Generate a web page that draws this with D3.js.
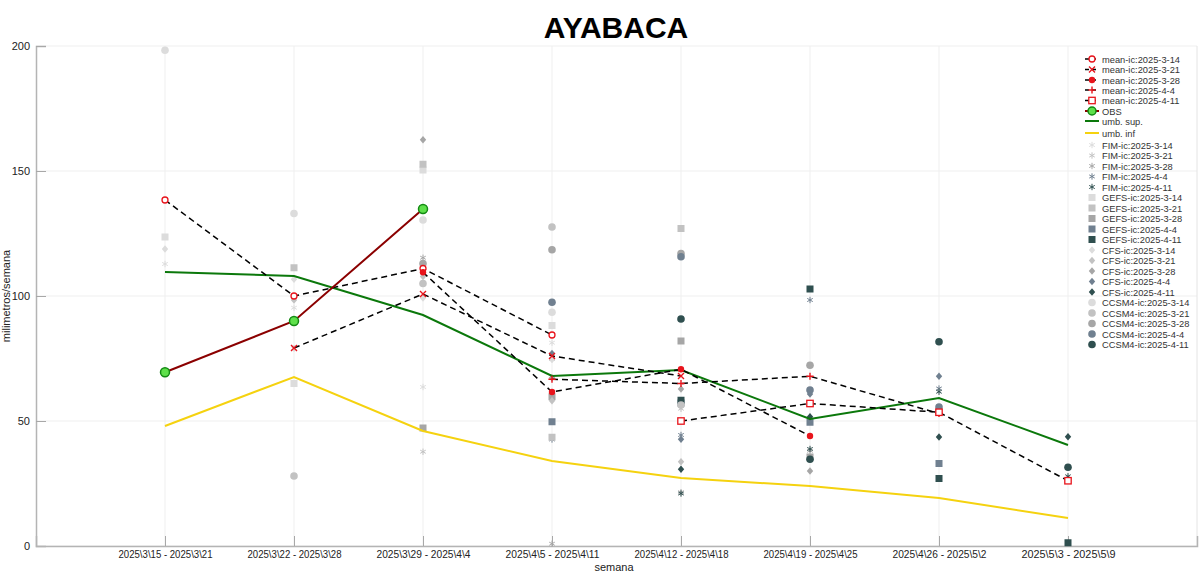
<!DOCTYPE html>
<html>
<head>
<meta charset="utf-8">
<script src="https://cdn.jsdelivr.net/npm/d3@7"></script>
<style>
body { margin: 0; background: #fff; }
text { font-family: "Liberation Sans", Arial, sans-serif; }
</style>
</head>
<body>
<div id="chart"></div>
<script>
var width = 1200, height = 575;

// week labels (x categories)
var weeks = ["2025\\3\\15 - 2025\\3\\21", "2025\\3\\22 - 2025\\3\\28", "2025\\3\\29 - 2025\\4\\4",
  "2025\\4\\5 - 2025\\4\\11", "2025\\4\\12 - 2025\\4\\18", "2025\\4\\19 - 2025\\4\\25",
  "2025\\4\\26 - 2025\\5\\2", "2025\\5\\3 - 2025\\5\\9"];
var icDates = ["2025-3-14", "2025-3-21", "2025-3-28", "2025-4-4", "2025-4-11"];
var yTicks = [0, 50, 100, 150, 200];

var obs = [69.5, 90, 134.8];
var umbSup = [109.6, 108, 92.4, 68, 70.4, 50.8, 59.2, 40.4];
var umbInf = [48, 67.6, 46, 34, 27.2, 24, 19.2, 11.2];

// each ic covers 4 weeks starting at its own index
var meanIc = [
  [138.4, 100, 111, 84.4],
  [79.2, 100.8, 76, 68],
  [109.5, 61.6, 70.7, 44],
  [66.7, 65, 67.9, 53],
  [50, 57, 53.5, 26.1]
];
var fim = [
  [112.8, 95.3, 63.6, 81.3],
  [79.1, 37.7, 74.8, 54.9],
  [115.3, 0.9, 21.5, 38.1],
  [42.6, 44.4, 98.4, 63],
  [21, 38.8, 61.7, 27.9]
];
var gefs = [
  [123.6, 65, 150.4, 88.2],
  [111.3, 152.7, 43.5, 127],
  [47.2, 59.7, 82, 35.6],
  [49.7, 57.2, 49.5, 33],
  [58.3, 102.8, 27, 1.3]
];
var cfs = [
  [118.8, 106.7, 99.2, 74.6],
  [98.4, 107.8, 58.1, 33.7],
  [162.5, 67.3, 62.8, 30],
  [77, 42.7, 60.8, 67.9],
  [30.7, 51.7, 43.6, 43.7]
];
var ccsm4 = [
  [198.3, 133, 130.4, 93.5],
  [28, 105, 127.6, 56.4],
  [113, 118.5, 117, 72.3],
  [97.5, 115.7, 62.4, 55.6],
  [90.8, 34.7, 81.7, 31.5]
];

var icColors = ["#dcdcdc", "#c2c2c2", "#a6a6a6", "#708090", "#2f4f4f"];
var meanMarks = ["circle", "x", "dot", "plus", "square"];

var x = d3.scaleLinear().domain([-1, 8]).range([36, 1197]);
var y = d3.scaleLinear().domain([0, 200]).range([546, 46]);

var svg = d3.select("#chart").append("svg")
  .attr("width", width).attr("height", height);

// grid
svg.append("g").selectAll("line").data(yTicks).enter().append("line")
  .attr("x1", x(-1)).attr("x2", x(8))
  .attr("y1", d => y(d)).attr("y2", d => y(d))
  .attr("stroke", "#efefef");
svg.append("g").selectAll("line").data(d3.range(weeks.length)).enter().append("line")
  .attr("x1", d => x(d)).attr("x2", d => x(d))
  .attr("y1", y(0)).attr("y2", y(200))
  .attr("stroke", "#efefef");
svg.append("line").attr("x1", x(8)).attr("x2", x(8)).attr("y1", y(0)).attr("y2", y(200))
  .attr("stroke", "#e4e4e4");

// axes
var yAxis = svg.append("g").attr("transform", "translate(" + x(-1) + ",0)")
  .call(d3.axisLeft(y).tickValues(yTicks).tickSize(-10).tickPadding(6));
var xAxis = svg.append("g").attr("transform", "translate(0," + y(0) + ")")
  .call(d3.axisBottom(x).tickValues(d3.range(weeks.length)).tickFormat(i => weeks[i]).tickSize(-10).tickPadding(5));
[yAxis, xAxis].forEach(function(a) {
  a.select(".domain").attr("stroke", "#b4b4b4").attr("stroke-width", 1.5);
  a.selectAll(".tick line").attr("stroke", "#a8a8a8");
  a.selectAll(".tick text").attr("fill", "#222");
});
yAxis.selectAll(".tick text").attr("font-size", 11);
xAxis.selectAll(".tick text").attr("font-size", 10).attr("textLength", 94).attr("lengthAdjust", "spacingAndGlyphs");

function starPath(r) {
  var p = "";
  for (var k = 0; k < 3; k++) {
    var a = Math.PI / 2 + k * Math.PI / 3;
    p += "M" + (r * Math.cos(a)) + "," + (r * Math.sin(a)) + "L" + (-r * Math.cos(a)) + "," + (-r * Math.sin(a));
  }
  return p;
}
function crossPath(r, diag) {
  if (diag) return "M" + -r + "," + -r + "L" + r + "," + r + "M" + -r + "," + r + "L" + r + "," + -r;
  return "M" + -r + ",0L" + r + ",0M0," + -r + "L0," + r;
}

function drawModel(g, arr, kind, ic, cx, cy) {
  arr.forEach(function(v, j) {
    var px = cx !== undefined ? cx : x(ic + j);
    var py = cy !== undefined ? cy : y(v);
    var c = icColors[ic];
    if (kind == "FIM") {
      g.append("path").attr("d", starPath(3.2)).attr("transform", "translate(" + px + "," + py + ")")
        .attr("stroke", c).attr("stroke-width", 1).attr("fill", "none");
    } else if (kind == "GEFS") {
      g.append("rect").attr("x", px - 3.5).attr("y", py - 3.5).attr("width", 7).attr("height", 7).attr("fill", c);
    } else if (kind == "CFS") {
      g.append("path").attr("d", "M0,-3.8L3.2,0L0,3.8L-3.2,0Z").attr("transform", "translate(" + px + "," + py + ")").attr("fill", c);
    } else {
      g.append("circle").attr("cx", px).attr("cy", py).attr("r", 3.8).attr("fill", c);
    }
  });
}

var models = [["FIM", fim], ["GEFS", gefs], ["CFS", cfs], ["CCSM4", ccsm4]];
var scatter = svg.append("g");
models.forEach(function(m) {
  m[1].forEach(function(arr, ic) { drawModel(scatter, arr, m[0], ic); });
});

var line = d3.line().x(d => x(d[0])).y(d => y(d[1]));

svg.append("path").datum(umbInf.map((v, i) => [i, v]))
  .attr("d", line).attr("fill", "none").attr("stroke", "#f5d20f").attr("stroke-width", 2);
svg.append("path").datum(umbSup.map((v, i) => [i, v]))
  .attr("d", line).attr("fill", "none").attr("stroke", "#0b780b").attr("stroke-width", 2);

function meanMarker(g, kind, px, py) {
  var red = "#e8141c";
  if (kind == "circle") g.append("circle").attr("cx", px).attr("cy", py).attr("r", 3).attr("fill", "#fff").attr("stroke", red).attr("stroke-width", 1.3);
  else if (kind == "x") g.append("path").attr("d", crossPath(3, true)).attr("transform", "translate(" + px + "," + py + ")").attr("stroke", red).attr("stroke-width", 1.4);
  else if (kind == "dot") g.append("circle").attr("cx", px).attr("cy", py).attr("r", 3.2).attr("fill", red);
  else if (kind == "plus") g.append("path").attr("d", crossPath(3.6, false)).attr("transform", "translate(" + px + "," + py + ")").attr("stroke", red).attr("stroke-width", 1.4);
  else g.append("rect").attr("x", px - 3.2).attr("y", py - 3.2).attr("width", 6.4).attr("height", 6.4).attr("fill", "#fff").attr("stroke", red).attr("stroke-width", 1.3);
}

meanIc.forEach(function(arr, ic) {
  var pts = arr.map((v, j) => [ic + j, v]);
  svg.append("path").datum(pts).attr("d", line).attr("fill", "none")
    .attr("stroke", "#000").attr("stroke-width", 1.5).attr("stroke-dasharray", "6,4");
});
meanIc.forEach(function(arr, ic) {
  arr.forEach(function(v, j) { meanMarker(svg, meanMarks[ic], x(ic + j), y(v)); });
});

svg.append("path").datum(obs.map((v, i) => [i, v]))
  .attr("d", line).attr("fill", "none").attr("stroke", "#8b0000").attr("stroke-width", 2);
svg.selectAll(".obs").data(obs).enter().append("circle")
  .attr("cx", (d, i) => x(i)).attr("cy", d => y(d)).attr("r", 4.5)
  .attr("fill", "#5ee04a").attr("stroke", "#138a13").attr("stroke-width", 1.5);

// titles
svg.append("text").attr("x", 616).attr("y", 38).attr("text-anchor", "middle")
  .attr("font-size", 30).attr("font-weight", "bold").attr("fill", "#000").text("AYABACA");
svg.append("text").attr("x", 614).attr("y", 571).attr("text-anchor", "middle")
  .attr("font-size", 11).attr("fill", "#222").text("semana");
svg.append("text").attr("transform", "translate(10,296) rotate(-90)").attr("text-anchor", "middle")
  .attr("font-size", 11).attr("fill", "#222").text("milimetros/semana");

// legend
var leg = svg.append("g");
var ly = [59, 69.5, 80, 90, 100.5, 111, 121, 133];
var lx = 1092, tx = 1102;
function legText(yy, t) {
  leg.append("text").attr("x", tx).attr("y", yy + 3.5).attr("font-size", 9.3).attr("fill", "#333").text(t);
}
icDates.forEach(function(d, i) {
  leg.append("line").attr("x1", lx - 7).attr("x2", lx + 7).attr("y1", ly[i]).attr("y2", ly[i])
    .attr("stroke", "#000").attr("stroke-width", 1.5).attr("stroke-dasharray", "4,3");
  meanMarker(leg, meanMarks[i], lx, ly[i]);
  legText(ly[i], "mean-ic:" + d);
});
leg.append("line").attr("x1", lx - 7).attr("x2", lx + 7).attr("y1", ly[5]).attr("y2", ly[5]).attr("stroke", "#8b0000").attr("stroke-width", 2);
leg.append("circle").attr("cx", lx).attr("cy", ly[5]).attr("r", 4).attr("fill", "#5ee04a").attr("stroke", "#138a13").attr("stroke-width", 1.5);
legText(ly[5], "OBS");
leg.append("line").attr("x1", lx - 7).attr("x2", lx + 7).attr("y1", ly[6]).attr("y2", ly[6]).attr("stroke", "#0b780b").attr("stroke-width", 2);
legText(ly[6], "umb. sup.");
leg.append("line").attr("x1", lx - 7).attr("x2", lx + 7).attr("y1", ly[7]).attr("y2", ly[7]).attr("stroke", "#f5d20f").attr("stroke-width", 2);
legText(ly[7], "umb. inf");
models.forEach(function(m, mi) {
  icDates.forEach(function(d, i) {
    var yy = 145 + (mi * 5 + i) * 10.5;
    drawModel(leg, [0], m[0], i, lx, yy);
    legText(yy, m[0] + "-ic:" + d);
  });
});
</script>
</body>
</html>
